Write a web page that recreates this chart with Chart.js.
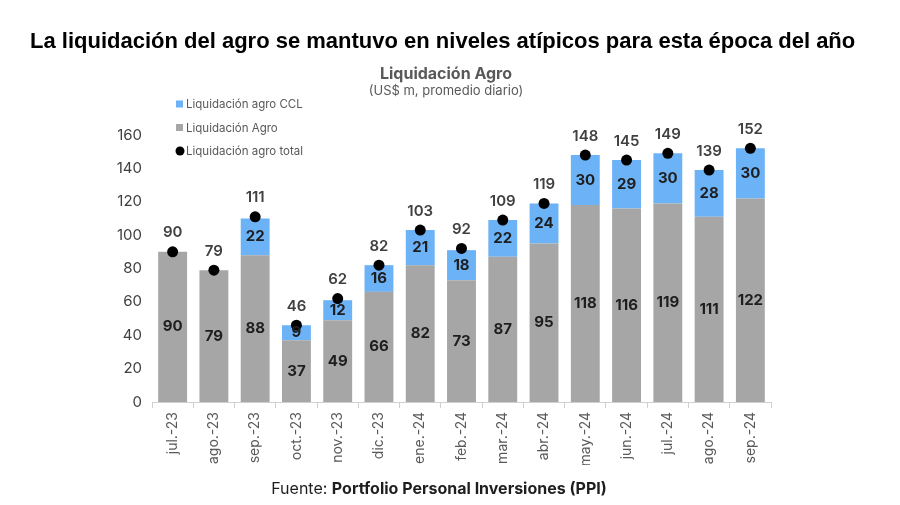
<!DOCTYPE html>
<html>
<head>
<meta charset="utf-8">
<script src="https://cdn.jsdelivr.net/npm/chart.js@4"></script>
<style>
  html, body { margin: 0; padding: 0; background: #fff; }
  #wrap { position: relative; width: 900px; height: 505px; }
  canvas { position: absolute; left: 0; top: 0; }
</style>
</head>
<body>
<div id="wrap"><canvas id="graph" width="900" height="505"></canvas></div>
<script>
const months = ["jul.-23", "ago.-23", "sep.-23", "oct.-23", "nov.-23", "dic.-23", "ene.-24", "feb.-24",
  "mar.-24", "abr.-24", "may.-24", "jun.-24", "jul.-24", "ago.-24", "sep.-24"];
const agro = [90, 79, 88, 37, 49, 66, 82, 73, 87, 95, 118, 116, 119, 111, 122];
const agroCCL = [null, null, 22, 9, 12, 16, 21, 18, 22, 24, 30, 29, 30, 28, 30];
const agroTotal = [90, 79, 111, 46, 62, 82, 103, 92, 109, 119, 148, 145, 149, 139, 152];

const BLUE = "#6cb2f6";
const GRAY = "#a6a6a6";

// numbers inside the bars and above the dots
const labelPlugin = {
  id: "labels",
  afterDatasetsDraw(chart) {
    const ctx = chart.ctx;
    const y = chart.scales.y;
    ctx.save();
    ctx.textAlign = "center";
    ctx.textBaseline = "middle";
    ctx.font = "bold 15px Inter, 'Liberation Sans', sans-serif";
    ctx.fillStyle = "#1e1e1e";
    chart.getDatasetMeta(0).data.forEach((bar, i) => {
      ctx.fillText(agro[i], bar.x, y.getPixelForValue(agro[i] / 2));
    });
    chart.getDatasetMeta(1).data.forEach((bar, i) => {
      if (agroCCL[i] == null) return;
      ctx.fillText(agroCCL[i], bar.x, y.getPixelForValue(agro[i] + agroCCL[i] / 2));
    });
    ctx.fillStyle = "#404040";
    ctx.font = "600 15px Inter, 'Liberation Sans', sans-serif";
    chart.getDatasetMeta(2).data.forEach((pt, i) => {
      ctx.fillText(agroTotal[i], pt.x, pt.y - 19);
    });
    ctx.restore();
  }
};

// headline, chart title, legend and source
const textPlugin = {
  id: "texts",
  afterDraw(chart) {
    const ctx = chart.ctx;
    ctx.save();
    ctx.textBaseline = "middle";
    ctx.fillStyle = "#000";
    ctx.font = "bold 22px 'Liberation Sans', Arial, sans-serif";
    ctx.textAlign = "left";
    ctx.fillText("La liquidación del agro se mantuvo en niveles atípicos para esta época del año", 30, 42);

    ctx.textAlign = "center";
    ctx.fillStyle = "#595959";
    ctx.font = "bold 16px Inter, sans-serif";
    ctx.fillText("Liquidación Agro", 446, 74);
    ctx.font = "13px Inter, sans-serif";
    ctx.fillText("(US$ m, promedio diario)", 446, 91);

    const items = [
      { text: "Liquidación agro CCL", color: BLUE, dot: false },
      { text: "Liquidación Agro", color: GRAY, dot: false },
      { text: "Liquidación agro total", color: "#000", dot: true }
    ];
    ctx.textAlign = "left";
    ctx.font = "11.5px Inter, sans-serif";
    items.forEach((it, k) => {
      const yy = 104 + k * 23.5;
      ctx.fillStyle = it.color;
      if (it.dot) {
        ctx.beginPath();
        ctx.arc(180, yy, 4.5, 0, Math.PI * 2);
        ctx.fill();
      } else {
        ctx.fillRect(176, yy - 3.5, 7, 7);
      }
      ctx.fillStyle = "#595959";
      ctx.fillText(it.text, 186, yy + 1);
    });

    ctx.fillStyle = "#1e1e1e";
    const a = "Fuente: ";
    ctx.font = "16px Inter, sans-serif";
    const wa = ctx.measureText(a).width;
    ctx.font = "bold 16px Inter, sans-serif";
    const b = "Portfolio Personal Inversiones (PPI)";
    const wb = ctx.measureText(b).width;
    const x0 = 439 - (wa + wb) / 2;
    ctx.font = "16px Inter, sans-serif";
    ctx.fillText(a, x0, 489);
    ctx.font = "bold 16px Inter, sans-serif";
    ctx.fillText(b, x0 + wa, 489);
    ctx.restore();
  }
};

const ctx = document.getElementById("graph").getContext("2d");
new Chart(ctx, {
  data: {
    labels: months,
    datasets: [
      {
        type: "bar",
        label: "Liquidación Agro",
        data: agro,
        backgroundColor: GRAY,
        barPercentage: 0.7,
        categoryPercentage: 1,
        stack: "s",
        order: 2
      },
      {
        type: "bar",
        label: "Liquidación agro CCL",
        data: agroCCL,
        backgroundColor: BLUE,
        barPercentage: 0.7,
        categoryPercentage: 1,
        stack: "s",
        order: 2
      },
      {
        type: "line",
        label: "Liquidación agro total",
        data: agroTotal,
        showLine: false,
        pointRadius: 5.5,
        pointBackgroundColor: "#000",
        pointBorderWidth: 0,
        order: 1
      }
    ]
  },
  options: {
    responsive: false,
    animation: false,
    layout: { padding: { left: 97, right: 129, top: 135, bottom: 40 } },
    plugins: {
      legend: { display: false },
      tooltip: { enabled: false }
    },
    scales: {
      x: {
        stacked: true,
        grid: { display: true, drawOnChartArea: false, drawTicks: true, tickLength: 6, color: "#d0d0d0", offset: true },
        border: { display: true, color: "#d0d0d0" },
        ticks: {
          minRotation: 90, maxRotation: 90, padding: 4,
          color: "#595959",
          font: { family: "Inter, sans-serif", size: 14 }
        },
        afterFit(scale) { scale.height = 63; }
      },
      y: {
        stacked: true,
        min: 0, max: 160,
        grid: { display: false },
        border: { display: false },
        ticks: {
          stepSize: 20, padding: 2,
          color: "#404040",
          font: { family: "Inter, sans-serif", size: 15 }
        },
        afterFit(scale) { scale.width = 55; }
      }
    }
  },
  plugins: [labelPlugin, textPlugin]
});
</script>
</body>
</html>
